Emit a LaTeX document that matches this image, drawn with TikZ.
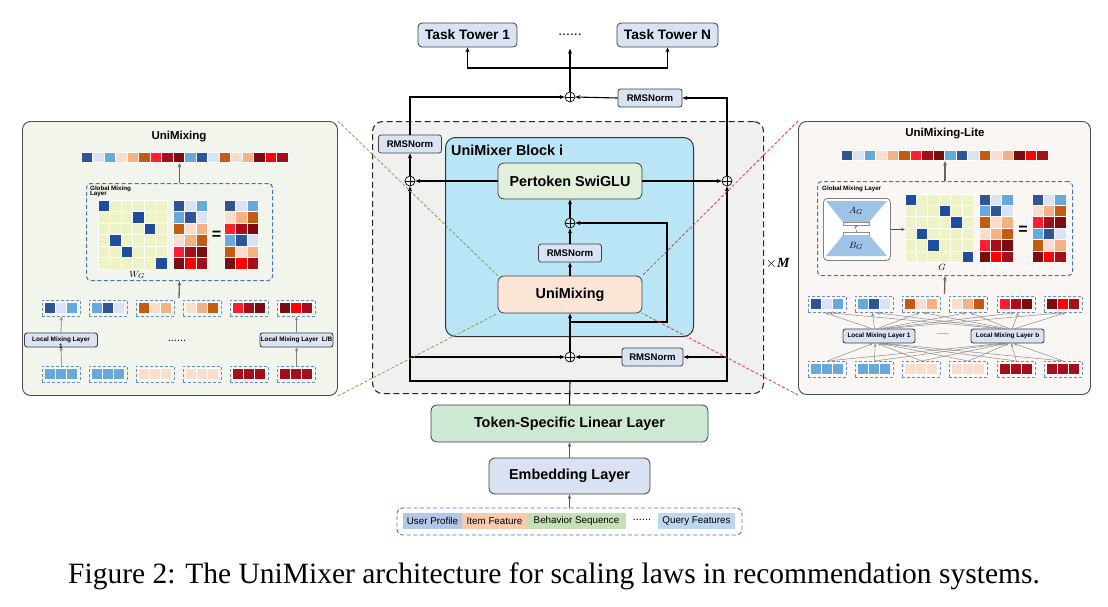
\documentclass[tikz,border=0pt]{standalone}
\usepackage{fontspec}
\usepackage{amsmath}
\setmainfont{Liberation Serif}
\setsansfont{Liberation Sans}
\usetikzlibrary{arrows.meta,calc}
\definecolor{cDB}{HTML}{2F5597}
\definecolor{cVLB}{HTML}{DAE3F3}
\definecolor{cLB}{HTML}{67A9DB}
\definecolor{cPP}{HTML}{FBDDCD}
\definecolor{cPE}{HTML}{F4B183}
\definecolor{cOR}{HTML}{C55A11}
\definecolor{cRD}{HTML}{FF1E32}
\definecolor{cDR}{HTML}{A50F1C}
\definecolor{cXR}{HTML}{7A0C12}
\definecolor{cBR}{HTML}{FF0000}
\definecolor{cYel}{HTML}{EEF3C6}
\definecolor{cBlu}{HTML}{1F4E9E}
\definecolor{cLpan}{HTML}{F1F5EC}
\definecolor{cRpan}{HTML}{FAF6F3}
\definecolor{cGrayBg}{HTML}{F0F0F1}
\definecolor{cBlock}{HTML}{B9E5F6}
\definecolor{cSwi}{HTML}{E2EFDA}
\definecolor{cUni}{HTML}{FBE5D6}
\definecolor{cTsl}{HTML}{CDE9D3}
\definecolor{cEmb}{HTML}{D9E1F2}
\definecolor{cDash}{HTML}{4472C4}
\definecolor{cTrap}{HTML}{9DC3E6}
\definecolor{cSegU}{HTML}{B4C7E7}
\definecolor{cSegI}{HTML}{F8CBAD}
\definecolor{cSegB}{HTML}{C5E0B4}
\definecolor{cSegQ}{HTML}{BDD7EE}
\definecolor{cGreenD}{HTML}{70AD47}
\definecolor{cRedD}{HTML}{E8383A}
\newcommand{\fsz}[1]{\fontsize{#1}{#1}\selectfont}
\newcommand{\toprow}[2]{%
  \foreach \cc [count=\k from 0] in {cDB,cVLB,cLB,cPP,cPE,cOR,cRD,cDR,cXR,cLB,cDB,cVLB,cOR,cPP,cPE,cXR,cBR,cDR}
    {\filldraw[fill=\cc, draw=white, line width=0.8pt] ({#1+\k*11.5},#2) rectangle ++(11.5,10.5);}}
\newcommand{\cellmat}[4]{%
  \foreach \row [count=\r from 0] in {#4}
    {\foreach \cc [count=\k from 0] in \row
      {\filldraw[fill=\cc, draw=white, line width=1pt] ({#1+\k*#3},{#2+\r*#3}) rectangle ++(#3,#3);}}}
\newcommand{\grp}[4]{%
  \node[grpbox, anchor=north west] (#4) at (#1,#2) {};
  \foreach \cc [count=\k from 0] in {#3}
    {\filldraw[fill=\cc, draw=white, line width=0.8pt] ({#1+2.3+\k*11.2},{#2+2.6}) rectangle ++(11,11);}}
\begin{document}
\begin{tikzpicture}[x=1pt,y=-1pt,
  mybox/.style={draw=black!75, line width=0.8pt, rounded corners=4pt, inner sep=0pt, align=center},
  tt/.style={mybox, fill=cVLB, font=\sffamily\bfseries\fsz{13.7}, minimum height=24pt},
  rms/.style={mybox, fill=cVLB, rounded corners=2.5pt, font=\sffamily\bfseries\fsz{9.6}, minimum height=18pt},
  mybig/.style={mybox, font=\sffamily\bfseries\fsz{14.4}, rounded corners=6pt},
  opl/.style={circle, draw=black, line width=0.7pt, minimum size=10pt, inner sep=0pt,
    path picture={\draw[line width=0.7pt] (path picture bounding box.north) -- (path picture bounding box.south)
      (path picture bounding box.west) -- (path picture bounding box.east);}},
  arr/.style={draw=black, line width=1.1pt, -{Stealth[length=5pt,width=4pt]}},
  ln/.style={draw=black, line width=1.1pt},
  garr/.style={draw=black!65, line width=1pt, -{Stealth[length=4.5pt,width=3.5pt]}},
  parr/.style={draw=black!60, line width=1.3pt, -{Stealth[length=4.5pt,width=3.6pt]}},
  sarr/.style={draw=black!50, line width=0.7pt, -{Stealth[length=3.5pt,width=3pt]}},
  fanarr/.style={draw=black!45, line width=0.5pt, -{Stealth[length=3.5pt,width=3pt]}},
  panel/.style={draw=black!70, line width=0.9pt, rounded corners=8pt, inner sep=0pt},
  outerbox/.style={draw=black!85, dash pattern=on 6pt off 3.5pt, line width=1.1pt, rounded corners=10pt, fill=cGrayBg, inner sep=0pt},
  blockbox/.style={draw=black!80, line width=1pt, rounded corners=10pt, fill=cBlock, inner sep=0pt},
  gmbox/.style={draw=cDash, dash pattern=on 4pt off 2.5pt, line width=1pt, rounded corners=4pt, inner sep=0pt},
  grpbox/.style={draw=cDash!80, dash pattern=on 3pt off 2pt, line width=0.8pt, minimum width=38pt, minimum height=16pt, inner sep=0pt},
  lml/.style={draw=black!75, line width=0.9pt, rounded corners=2.5pt, fill=cVLB, inner sep=0pt, font=\sffamily\bfseries\fsz{6.4}, minimum height=14pt},
  seg/.style={inner sep=0pt, minimum height=16pt, font=\sffamily\fsz{9.8}},
  gdash/.style={draw=cGreenD, line width=0.8pt, dash pattern=on 3pt off 2pt},
  rdash/.style={draw=cRedD, line width=0.8pt, dash pattern=on 3pt off 2pt},
  ptitle/.style={font=\sffamily\bfseries\fsz{11.5}},
  gml/.style={font=\sffamily\bfseries\fsz{6.2}, inner sep=0pt, align=left},
  mlab/.style={font=\fsz{9.5}, inner sep=0pt}
]
\fill[white] (0,0) rectangle (1108,606);
\useasboundingbox (0,0) rectangle (1108,606);

% ---------- side panels ----------
\node[panel, fill=cLpan, minimum width=315pt, minimum height=274pt, anchor=north west] (lp) at (22,121) {};
\node[panel, fill=cRpan, minimum width=292pt, minimum height=273pt, anchor=north west] (rp) at (798,121) {};

% ---------- left panel: UniMixing ----------
\node[ptitle] (ltitle) at (179,137) {UniMixing};
\toprow{81}{152}
\node[gmbox, minimum width=186pt, minimum height=97pt, anchor=north west] (lgm) at (86,183) {};
\draw[parr] (lgm.north) -- ++(0,-20);
\node[gml, anchor=north west] (lgml) at (90,186) {Global Mixing\\[-1.5pt]Layer};
\cellmat{98}{200}{11.5}{{cBlu,cYel,cYel,cYel,cYel,cYel},{cYel,cYel,cYel,cBlu,cYel,cYel},{cYel,cYel,cYel,cYel,cBlu,cYel},{cYel,cBlu,cYel,cYel,cYel,cYel},{cYel,cYel,cBlu,cYel,cYel,cYel},{cYel,cYel,cYel,cYel,cYel,cBlu}}
\cellmat{173}{200}{11.5}{{cDB,cVLB,cLB},{cLB,cDB,cVLB},{cOR,cPP,cPE},{cPP,cPE,cOR},{cRD,cDR,cXR},{cXR,cBR,cDR}}
\node[font=\sffamily\bfseries\fsz{16}] (leq) at (216.5,235) {=};
\cellmat{224}{200}{11.5}{{cDB,cVLB,cLB},{cPP,cPE,cOR},{cRD,cDR,cXR},{cLB,cDB,cVLB},{cOR,cPP,cPE},{cXR,cBR,cDR}}
\node[mlab] (lwg) at (137,275) {$W_G$};
\grp{42}{300}{cDB,cVLB,cLB}{lm1}
\grp{89}{300}{cLB,cDB,cVLB}{lm2}
\grp{136}{300}{cOR,cPP,cPE}{lm3}
\grp{183}{300}{cPP,cPE,cOR}{lm4}
\grp{230}{300}{cRD,cDR,cXR}{lm5}
\grp{277}{300}{cXR,cBR,cDR}{lm6}
\grp{42}{366}{cLB,cLB,cLB}{lb1}
\grp{89}{366}{cLB,cLB,cLB}{lb2}
\grp{136}{366}{cPP,cPP,cPP}{lb3}
\grp{183}{366}{cPP,cPP,cPP}{lb4}
\grp{230}{366}{cDR,cDR,cDR}{lb5}
\grp{277}{366}{cDR,cDR,cDR}{lb6}
\coordinate (lmid) at (179,298);
\draw[parr] (lmid) -- (lgm.south);
\node[lml, minimum width=73pt] (lmlA) at (61,340) {Local Mixing Layer};
\node[lml, minimum width=73pt] (lmlB) at (296.5,340) {Local Mixing Layer\ \ L/B};
\node[font=\sffamily\bfseries\fsz{6.4}, inner sep=0pt] (lone) at (61,346.5) {1};
\node[font=\sffamily\fsz{11}] (ldots) at (177,341) {......};
\draw[sarr] (lb1.north) -- (lmlA.south);
\draw[sarr] (lmlA.north) -- (lm1.south);
\draw[sarr] (lb6.north) -- (lmlB.south);
\draw[sarr] (lmlB.north) -- (lm6.south);

% ---------- right panel: UniMixing-Lite ----------
\node[ptitle] (rtitle) at (945,134) {UniMixing-Lite};
\toprow{841}{150}
\node[gmbox, minimum width=255pt, minimum height=94pt, anchor=north west] (rgm) at (817,181) {};
\draw[parr] (rgm.north) -- ++(0,-20);
\node[gml, anchor=west] (rgml) at (822,189) {Global Mixing Layer};
\node[draw=black!50, line width=0.8pt, rounded corners=4pt, fill=white, minimum width=67pt, minimum height=62pt, anchor=north west, inner sep=0pt] (ab) at (823,198) {};
\fill[cTrap] (826,201) -- (887,201) -- (869,222) -- (843,222) -- cycle;
\draw[black!45, fill=white, line width=0.5pt] (843,222) rectangle (869,225);
\draw[black!45, line width=0.5pt] (856,225) -- (856,232);
\node[font=\itshape\fsz{6}, fill=white, inner sep=0.5pt] (rr) at (856,228.5) {$r$};
\draw[black!45, fill=white, line width=0.5pt] (843,232) rectangle (869,235);
\fill[cTrap] (843,235) -- (869,235) -- (887,256) -- (826,256) -- cycle;
\node[mlab] (ag) at (856,211) {$A_G$};
\node[mlab] (bg) at (856,246) {$B_G$};
\draw[sarr, draw=black!70, line width=0.8pt] (ab.east) -- ++(14,0);
\cellmat{905}{194}{11.4}{{cBlu,cYel,cYel,cYel,cYel,cYel},{cYel,cYel,cYel,cBlu,cYel,cYel},{cYel,cYel,cYel,cYel,cBlu,cYel},{cYel,cBlu,cYel,cYel,cYel,cYel},{cYel,cYel,cBlu,cYel,cYel,cYel},{cYel,cYel,cYel,cYel,cYel,cBlu}}
\cellmat{979}{194}{11.4}{{cDB,cVLB,cLB},{cLB,cDB,cVLB},{cOR,cPP,cPE},{cPP,cPE,cOR},{cRD,cDR,cXR},{cXR,cBR,cDR}}
\node[font=\sffamily\bfseries\fsz{16}] (req) at (1023,230) {=};
\cellmat{1032}{194}{11.4}{{cDB,cVLB,cLB},{cPP,cPE,cOR},{cRD,cDR,cXR},{cLB,cDB,cVLB},{cOR,cPP,cPE},{cXR,cBR,cDR}}
\node[mlab] (glab) at (942,267.5) {$G$};
\grp{808}{296}{cDB,cVLB,cLB}{rm1}
\grp{855}{296}{cLB,cDB,cVLB}{rm2}
\grp{902}{296}{cOR,cPP,cPE}{rm3}
\grp{949}{296}{cPP,cPE,cOR}{rm4}
\grp{997}{296}{cRD,cDR,cXR}{rm5}
\grp{1044}{296}{cXR,cBR,cDR}{rm6}
\grp{808}{361}{cLB,cLB,cLB}{rb1}
\grp{855}{361}{cLB,cLB,cLB}{rb2}
\grp{902}{361}{cPP,cPP,cPP}{rb3}
\grp{949}{361}{cPP,cPP,cPP}{rb4}
\grp{997}{361}{cDR,cDR,cDR}{rb5}
\grp{1044}{361}{cDR,cDR,cDR}{rb6}
\coordinate (rmid) at (944.5,294);
\draw[parr] (rmid) -- (rgm.south);
\node[lml, minimum width=72pt] (rmlA) at (879,336) {Local Mixing Layer\ 1};
\node[lml, minimum width=73pt] (rmlB) at (1007.5,336) {Local Mixing Layer\ b};
\node[font=\sffamily\fsz{7}] (rdots) at (943,334) {......};
\foreach \n in {1,...,6} {
  \pgfmathsetmacro\offa{(\n-3.5)*2.5}
  \pgfmathsetmacro\offb{(\n-3.5)*3}
  \draw[fanarr] (rb\n.north) -- ([xshift=\offa pt]rmlA.south);
  \draw[fanarr] (rb\n.north) -- ([xshift=\offa pt]rmlB.south);
  \draw[fanarr] ([xshift=\offb pt]rmlA.north) -- ([xshift=-2pt]rm\n.south);
  \draw[fanarr] ([xshift=\offb pt]rmlB.north) -- ([xshift=2pt]rm\n.south);
}

% ---------- center ----------
\node[outerbox, minimum width=391pt, minimum height=272pt, anchor=north west] (ob) at (372,121) {};
\node[blockbox, minimum width=248pt, minimum height=199pt, anchor=north west] (blk) at (445,137) {};
\node[anchor=west, font=\sffamily\bfseries\fsz{14.4}, inner sep=0pt] (blkl) at (451,150) {UniMixer Block i};
\node[font=\rmfamily\fsz{14}] (xm) at (778,264) {$\times$\textbf{\textit{M}}};

\node[tt, minimum width=99pt] (t1) at (467.5,35) {Task Tower 1};
\node[tt, minimum width=101pt] (tN) at (667.5,35) {Task Tower N};
\node[font=\sffamily\fsz{14}, inner sep=0pt] (dts) at (570,35) {......};

\node[mybig, fill=cSwi, minimum width=144pt, minimum height=36pt] (swi) at (570,181) {Pertoken SwiGLU};
\node[mybig, fill=cUni, minimum width=144pt, minimum height=37pt] (uni) at (570,294.5) {UniMixing};
\node[mybig, fill=cTsl, minimum width=277pt, minimum height=37pt] (tsl) at (569.5,423.5) {Token-Specific Linear Layer};
\node[mybig, fill=cEmb, minimum width=161pt, minimum height=36pt] (emb) at (569.5,476) {Embedding Layer};

\node[rms, minimum width=64pt] (rn1) at (650,98) {RMSNorm};
\node[rms, minimum width=63pt] (rn2) at (410,144) {RMSNorm};
\node[rms, minimum width=63pt] (rn3) at (570,253) {RMSNorm};
\node[rms, minimum width=61pt] (rn4) at (652.5,357) {RMSNorm};

\node[opl] (pT) at (570,97) {};
\node[opl] (pL) at (410,181) {};
\node[opl] (pR) at (727,181) {};
\node[opl] (pM) at (570,223) {};
\node[opl] (pB) at (570,357) {};

\coordinate (br) at (570,68);
\draw[arr] (pT.north) -- ++(0,-43);
\draw[arr] (br) -| (t1.south);
\draw[arr] (br) -| (tN.south);
\draw[arr] (rn2.north) |- (pT.west);
\draw[arr] (pR.north) |- (rn1.east);
\draw[arr] (rn1.west) -- (pT.east);
\draw[arr] (pL.north) -- (rn2.south);
\draw[arr] (swi.west) -- (pL.east);
\draw[arr] (swi.east) -- (pR.west);
\draw[arr] (pM.north) -- (swi.south);
\draw[arr] (rn3.north) -- (pM.south);
\draw[arr] (uni.north) -- (rn3.south);
\draw[arr] (pB.north) -- (uni.south);
\coordinate (sk) at (570,322);
\coordinate (skr) at (667,322);
\draw[arr] (sk) -- (skr) |- (pM.east);
\coordinate (jn) at (570,381);
\draw[ln] (tsl.north) -- (jn);
\draw[arr] (jn) -| (pL.south);
\draw[arr] (jn) -| (pR.south);
\coordinate (lbr) at (410,357);
\coordinate (rbr) at (727,357);
\draw[arr] (lbr) -- (pB.west);
\draw[arr] (rbr) -- (rn4.east);
\draw[arr] (rn4.west) -- (pB.east);

% ---------- inputs ----------
\node[draw=cDash, dash pattern=on 4pt off 2.5pt, line width=0.9pt, rounded corners=6pt, minimum width=345pt, minimum height=27pt, inner sep=0pt] (bar) at (569.5,521.5) {};
\node[seg, fill=cSegU, minimum width=59pt] (su) at (432.5,521) {User Profile};
\node[seg, fill=cSegI, minimum width=65pt] (si) at (494.5,521) {Item Feature};
\node[seg, fill=cSegB, minimum width=99pt] (sb) at (576.5,521) {Behavior Sequence};
\node[font=\sffamily\fsz{11}, inner sep=0pt] (sd) at (642,520) {......};
\node[seg, fill=cSegQ, minimum width=77pt] (sq) at (696.5,521) {Query Features};
\draw[garr] (emb.north) -- (tsl.south);
\draw[garr] (bar.north) -- (emb.south);

% ---------- zoom connectors ----------
\draw[gdash] (lp.north east) -- (uni.north west);
\draw[gdash] (lp.south east) -- (uni.south west);
\draw[rdash] (rp.north west) -- (uni.north east);
\draw[rdash] (rp.south west) -- (uni.south east);

% ---------- caption ----------
\node[font=\rmfamily\fsz{29.5}, inner sep=0pt] (cap) at (554,576) {Figure 2: The UniMixer architecture for scaling laws in recommendation systems.};
\end{tikzpicture}
\end{document}
